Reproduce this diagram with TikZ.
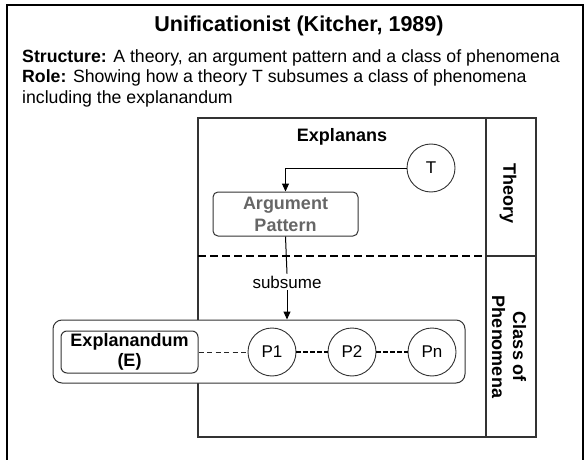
\documentclass[tikz,border=0pt]{standalone}
\usepackage{fontspec}
\setmainfont{Liberation Sans}
\usetikzlibrary{arrows.meta}
\definecolor{edge}{HTML}{333333}
\definecolor{greytext}{HTML}{666666}
\tikzset{
  frameline/.style={draw=black, line width=1.2pt},
  boxline/.style={draw=edge, line width=1.1pt},
  roundbox/.style={draw=edge, line width=1pt, rectangle, inner sep=0pt},
  phen/.style={draw=edge, line width=0.9pt, circle, inner sep=0pt, minimum size=48pt, font=\fontsize{17}{20}\selectfont},
  flow/.style={draw=black, line width=1pt, -{Triangle[length=8pt,width=7pt]}},
  link/.style={draw=black, line width=1pt},
  linkdash/.style={draw=black!85, line width=1pt, dash pattern=on 5pt off 3.5pt},
  linkdashb/.style={draw=black, line width=1.3pt, dash pattern=on 5pt off 2pt},
  sidelabel/.style={font=\fontsize{18}{21}\selectfont\bfseries, rotate=-90, align=center, inner sep=0pt},
}
\begin{document}
\begin{tikzpicture}[x=1pt,y=-1pt]
\useasboundingbox (0,0) rectangle (587,460);
% outer frame, open at the foot
\draw[frameline] (7,460) -- (7,5) -- (583,5) -- (583,460);

% heading and description
\node[anchor=base, font=\fontsize{21.5}{25}\selectfont\bfseries] (title) at (299,32) {Unificationist (Kitcher, 1989)};
\node[anchor=base west, inner sep=0pt, font=\fontsize{17.7}{21}\selectfont] (l1) at (22,63) {\textbf{Structure:} A theory, an argument pattern and a class of phenomena};
\node[anchor=base west, inner sep=0pt, font=\fontsize{17.7}{21}\selectfont] (l2) at (22,83) {\textbf{Role:} Showing how a theory T subsumes a class of phenomena};
\node[anchor=base west, inner sep=0pt, font=\fontsize{17.7}{21}\selectfont] (l3) at (22,103) {including the explanandum};

% explanans panel with its side column
\draw[boxline] (198,118) rectangle (486,437);
\draw[boxline] (486,118) rectangle (536,437);
\draw[draw=edge, line width=2.2pt] (486,256) -- (536,256);
\draw[draw=black, line width=1.3pt, dash pattern=on 8pt off 4pt] (198,256) -- (486,256);

\node[sidelabel] (theory) at (508,194) {Theory};
\node[sidelabel] (cop) at (509,347) {Class of\\Phenomena};

\node[font=\fontsize{18}{20}\selectfont\bfseries] (explanans) at (342,137) {Explanans};

% theory and argument pattern
\node[phen] (T) at (431,168) {T};
\node[roundbox, rounded corners=5pt, minimum width=145pt, minimum height=44pt, align=center,
      font=\fontsize{18}{22}\selectfont\bfseries, text=greytext] (AP) at (285.5,214) {Argument\\Pattern};

\node[font=\fontsize{17}{20}\selectfont, inner sep=2pt] (subsume) at (287,282) {subsume};

% class of phenomena
\node[roundbox, rounded corners=9pt, minimum width=412pt, minimum height=63pt, fill=white] (class) at (259,351.5) {};
\node[roundbox, rounded corners=6pt, minimum width=137pt, minimum height=42pt, align=center,
      font=\fontsize{18}{20}\selectfont\bfseries] (E) at (129.5,352) {Explanandum\\(E)};
\node[phen] (P1) at (272,352) {P1};
\node[phen] (P2) at (352,352) {P2};
\node[phen] (Pn) at (432,352) {Pn};

% connectors
\draw[flow] (T.west) -| (AP.north);
\draw[link] (AP.south) -- (subsume.north);
\draw[flow] (subsume.south) -- (subsume.south |- class.north);
\draw[linkdash] (E.east) -- (P1.west);
\draw[linkdashb] (P1.east) -- (P2.west);
\draw[linkdashb] (P2.east) -- (Pn.west);
\end{tikzpicture}
\end{document}
